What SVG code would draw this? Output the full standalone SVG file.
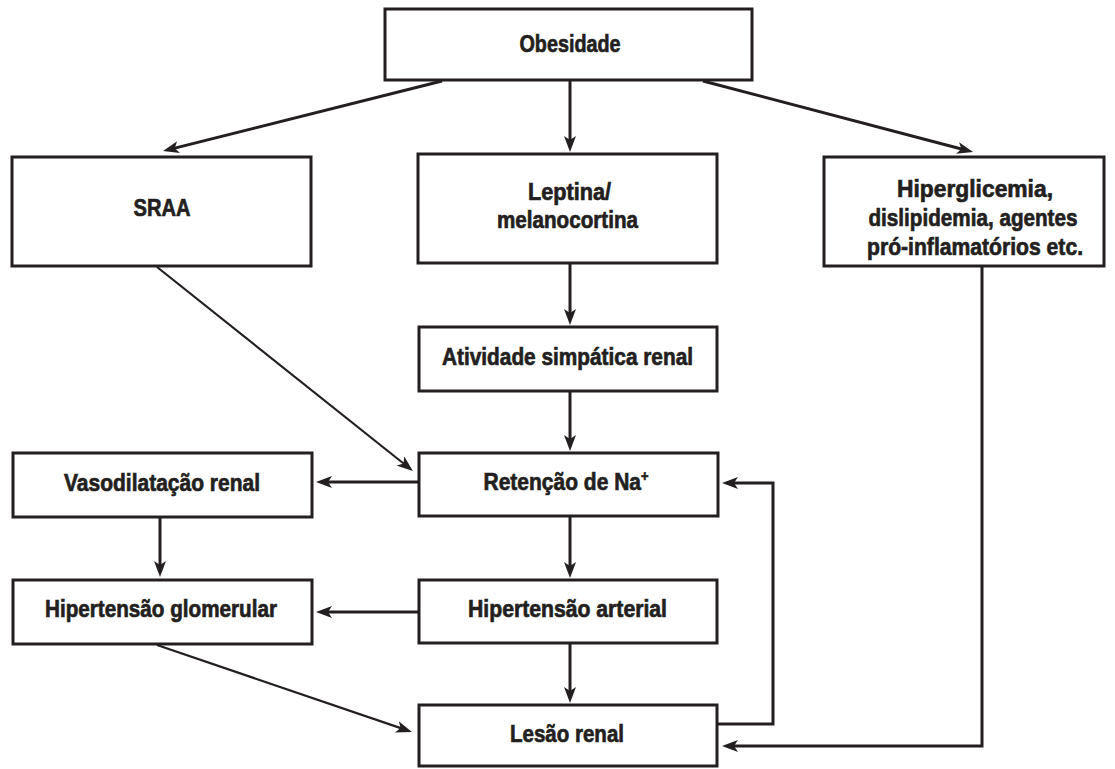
<svg xmlns="http://www.w3.org/2000/svg" width="1115" height="769" viewBox="0 0 1115 769">
<style>
.box{fill:#fff;stroke:#231f20;stroke-width:3}
.t{font-family:"Liberation Sans",Arial,sans-serif;font-weight:bold;font-size:24.5px;fill:#231f20;stroke:#231f20;stroke-width:0.7;text-anchor:middle}
.c{fill:none;stroke:#231f20;stroke-width:3}
.d{fill:none;stroke:#231f20;stroke-width:2.2}
</style>
<defs>
<marker id="ah" viewBox="0 0 16 12" markerWidth="16" markerHeight="12" refX="8" refY="6" orient="auto" markerUnits="userSpaceOnUse">
<path d="M0,0 L16,6 L0,12 L4,6 Z" fill="#231f20"/>
</marker>
</defs>
<g id="connectors">
<line class="c" x1="442" y1="81" x2="170.8" y2="149.1" marker-end="url(#ah)"/>
<line class="c" x1="570" y1="81" x2="570" y2="144" marker-end="url(#ah)"/>
<line class="c" x1="703" y1="81" x2="965.3" y2="150" marker-end="url(#ah)"/>
<line class="c" x1="570" y1="264" x2="570" y2="317" marker-end="url(#ah)"/>
<line class="c" x1="570" y1="392" x2="570" y2="443" marker-end="url(#ah)"/>
<line class="d" x1="157" y1="267" x2="406.7" y2="466" marker-end="url(#ah)"/>
<line class="c" x1="418" y1="482" x2="324" y2="482" marker-end="url(#ah)"/>
<line class="c" x1="160" y1="518" x2="160" y2="569" marker-end="url(#ah)"/>
<line class="c" x1="570" y1="517" x2="570" y2="570" marker-end="url(#ah)"/>
<line class="c" x1="418" y1="612" x2="324" y2="612" marker-end="url(#ah)"/>
<line class="c" x1="570" y1="644" x2="570" y2="695" marker-end="url(#ah)"/>
<line class="d" x1="157" y1="645" x2="404.4" y2="729.4" marker-end="url(#ah)"/>
<polyline class="c" points="718,724 773,724 773,483 730,483" marker-end="url(#ah)"/>
<polyline class="c" points="982,267 982,746 730,746" marker-end="url(#ah)"/>
</g>
<g id="obesidade">
<rect class="box" x="385" y="9" width="367" height="71"/>
<text class="t" x="570" y="52" textLength="101" lengthAdjust="spacingAndGlyphs">Obesidade</text>
</g>
<g id="sraa">
<rect class="box" x="12" y="157" width="299" height="109"/>
<text class="t" x="162" y="216" textLength="57" lengthAdjust="spacingAndGlyphs">SRAA</text>
</g>
<g id="leptina">
<rect class="box" x="418" y="154" width="299" height="109"/>
<text class="t" x="569.5" y="200" textLength="83" lengthAdjust="spacingAndGlyphs">Leptina/</text>
<text class="t" x="567.5" y="228" textLength="141" lengthAdjust="spacingAndGlyphs">melanocortina</text>
</g>
<g id="hiperglicemia">
<rect class="box" x="824" y="157" width="280" height="109"/>
<text class="t" x="975" y="197" textLength="156" lengthAdjust="spacingAndGlyphs">Hiperglicemia,</text>
<text class="t" x="973" y="226" textLength="209" lengthAdjust="spacingAndGlyphs">dislipidemia, agentes</text>
<text class="t" x="975" y="255" textLength="216" lengthAdjust="spacingAndGlyphs">pró-inflamatórios etc.</text>
</g>
<g id="atividade">
<rect class="box" x="419" y="327" width="298" height="64"/>
<text class="t" x="567.5" y="365" textLength="251" lengthAdjust="spacingAndGlyphs">Atividade simpática renal</text>
</g>
<g id="vasodilatacao">
<rect class="box" x="13" y="453" width="299" height="64"/>
<text class="t" x="162" y="491" textLength="196" lengthAdjust="spacingAndGlyphs">Vasodilatação renal</text>
</g>
<g id="retencao">
<rect class="box" x="419" y="453" width="299" height="63"/>
<text class="t" x="566" y="490" textLength="165" lengthAdjust="spacingAndGlyphs">Retenção de Na<tspan font-size="15" dy="-9">+</tspan></text>
</g>
<g id="hip-glomerular">
<rect class="box" x="13" y="580" width="299" height="64"/>
<text class="t" x="161" y="617" textLength="232" lengthAdjust="spacingAndGlyphs">Hipertensão glomerular</text>
</g>
<g id="hip-arterial">
<rect class="box" x="419" y="580" width="298" height="63"/>
<text class="t" x="567.5" y="617" textLength="199" lengthAdjust="spacingAndGlyphs">Hipertensão arterial</text>
</g>
<g id="lesao">
<rect class="box" x="419" y="705" width="298" height="61"/>
<text class="t" x="567" y="742" textLength="114" lengthAdjust="spacingAndGlyphs">Lesão renal</text>
</g>
</svg>
